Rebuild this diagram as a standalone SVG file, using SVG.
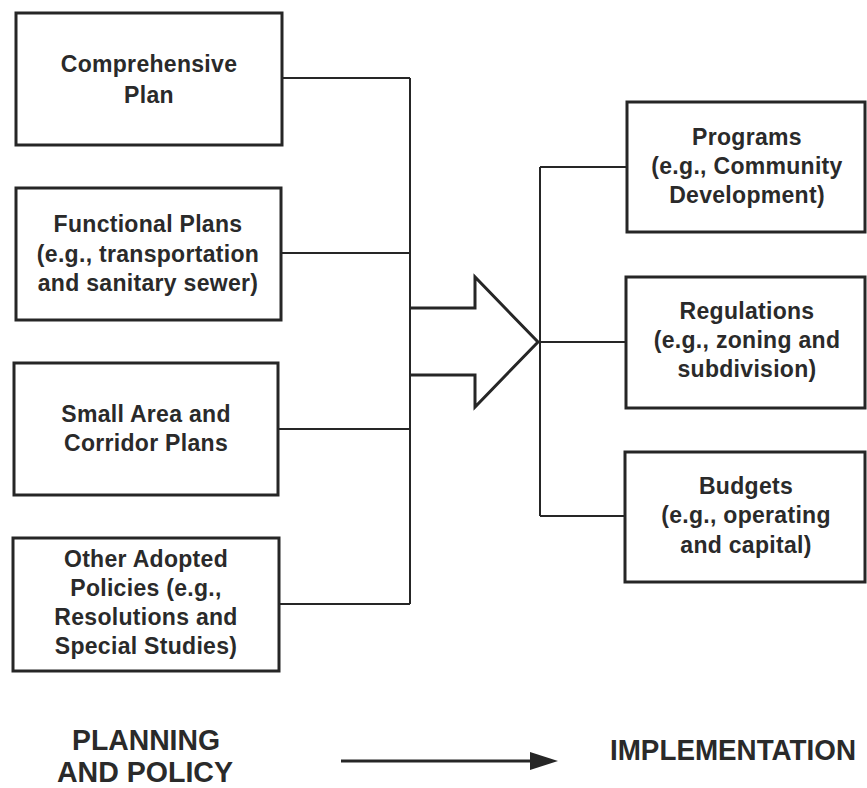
<svg xmlns="http://www.w3.org/2000/svg" width="867" height="788" viewBox="0 0 867 788">
  <style>
    .box { fill: #ffffff; stroke: #262626; stroke-width: 3; }
    .lbl { font-family: "Liberation Sans", Arial, sans-serif; font-weight: bold; font-size: 23px; fill: #2a2a2a; text-anchor: middle; letter-spacing: 0.3px; }
    .big { font-family: "Liberation Sans", Arial, sans-serif; font-weight: bold; font-size: 29px; fill: #2a2a2a; text-anchor: middle; }
    .wire { fill: none; stroke: #262626; stroke-width: 2; }
    .fat { fill: none; stroke: #262626; stroke-width: 3; stroke-linejoin: miter; }
  </style>
  <rect width="867" height="788" fill="#ffffff"/>

  <!-- connectors -->
  <g id="connectors">
    <!-- feeders from planning boxes into the collector bus -->
    <path class="wire" d="M282 78 H410 M281 253 H410 M278 429 H410 M279 604 H410 M410 78 V604"/>
    <!-- block arrow from the bus -->
    <path class="fat" d="M410 308 H475 V277 L538 342 L475 407 V375 H410"/>
    <!-- distribution bus to implementation boxes -->
    <path class="wire" d="M540 167 V516 M540 167 H626 M538 342 H626 M540 516 H626"/>
  </g>

  <!-- planning and policy side -->
  <g id="comprehensive-plan">
    <rect class="box" x="16" y="13" width="266" height="132"/>
    <text class="lbl" x="149" y="72">Comprehensive</text>
    <text class="lbl" x="149" y="103">Plan</text>
  </g>
  <g id="functional-plans">
    <rect class="box" x="16" y="188" width="265" height="132"/>
    <text class="lbl" x="148" y="232">Functional Plans</text>
    <text class="lbl" x="148" y="262">(e.g., transportation</text>
    <text class="lbl" x="148" y="291">and sanitary sewer)</text>
  </g>
  <g id="small-area-plans">
    <rect class="box" x="14" y="363" width="264" height="132"/>
    <text class="lbl" x="146" y="422">Small Area and</text>
    <text class="lbl" x="146" y="451">Corridor Plans</text>
  </g>
  <g id="other-policies">
    <rect class="box" x="13" y="538" width="266" height="133"/>
    <text class="lbl" x="146" y="567">Other Adopted</text>
    <text class="lbl" x="146" y="596">Policies (e.g.,</text>
    <text class="lbl" x="146" y="625">Resolutions and</text>
    <text class="lbl" x="146" y="654">Special Studies)</text>
  </g>

  <!-- implementation side -->
  <g id="programs">
    <rect class="box" x="627" y="102" width="238" height="130"/>
    <text class="lbl" x="747" y="145">Programs</text>
    <text class="lbl" x="747" y="174">(e.g., Community</text>
    <text class="lbl" x="747" y="203">Development)</text>
  </g>
  <g id="regulations">
    <rect class="box" x="626" y="277" width="239" height="131"/>
    <text class="lbl" x="747" y="319">Regulations</text>
    <text class="lbl" x="747" y="348">(e.g., zoning and</text>
    <text class="lbl" x="747" y="377">subdivision)</text>
  </g>
  <g id="budgets">
    <rect class="box" x="625" y="452" width="240" height="130"/>
    <text class="lbl" x="746" y="494">Budgets</text>
    <text class="lbl" x="746" y="523">(e.g., operating</text>
    <text class="lbl" x="746" y="553">and capital)</text>
  </g>

  <!-- legend -->
  <g id="legend">
    <text class="big" x="146" y="750" textLength="148" lengthAdjust="spacingAndGlyphs">PLANNING</text>
    <text class="big" x="145" y="782" textLength="176" lengthAdjust="spacingAndGlyphs">AND POLICY</text>
    <line x1="341" y1="761" x2="534" y2="761" stroke="#262626" stroke-width="3"/>
    <polygon points="530,752 558,761 530,770" fill="#262626"/>
    <text class="big" x="733" y="760" textLength="246" lengthAdjust="spacingAndGlyphs">IMPLEMENTATION</text>
  </g>
</svg>
